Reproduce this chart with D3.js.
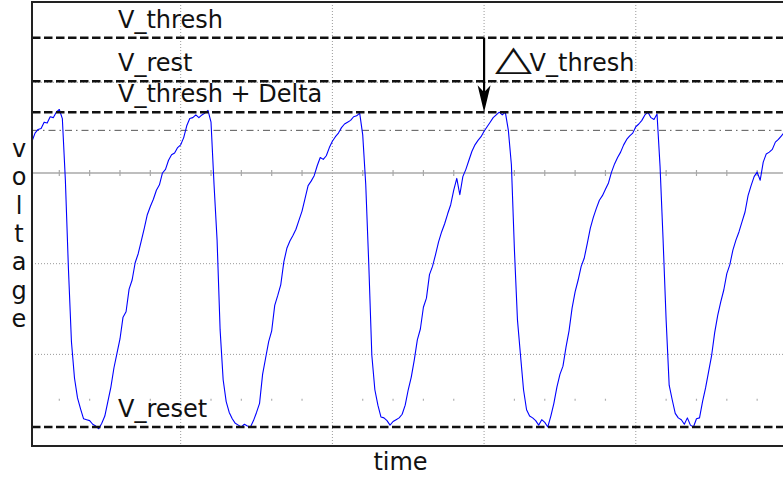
<!DOCTYPE html>
<html>
<head>
<meta charset="utf-8">
<script src="https://cdn.jsdelivr.net/npm/d3@7"></script>
<style>
  html, body { margin: 0; padding: 0; background: #fff; }
  svg { display: block; }
  text { font-family: "DejaVu Sans", sans-serif; fill: #111; }
</style>
</head>
<body>
<svg id="chart" width="783" height="477"></svg>
<script>
// Membrane trace sampled every 0.02 ms, values in mV
const sampleStartMs = 0.02;
const sampleStepMs = 0.02;
const traceMv = [
  -46.5, -45.6, -45.2, -45.1, -44.4, -44.5, -43.8, -43.9, -43.3, -43.0,
  -44.0, -50.8, -60.5, -68.6, -72.6, -74.8, -76.0, -77.1, -77.2, -77.3,
  -77.7, -77.9, -78.2, -77.6, -76.8, -75.2, -73.6, -71.5, -69.9, -68.3,
  -65.9, -65.3, -62.8, -61.8, -59.9, -58.9, -57.5, -56.1, -54.6, -53.7,
  -52.9, -51.9, -51.3, -50.0, -49.6, -48.6, -48.0, -47.8, -47.2, -46.9,
  -46.1, -44.8, -44.0, -43.9, -43.6, -43.9, -43.6, -43.4, -43.1, -44.4,
  -51.3, -57.4, -67.3, -72.8, -75.2, -76.4, -77.1, -77.6, -77.8, -78.0,
  -77.7, -77.9, -78.0, -77.3, -76.4, -75.4, -72.2, -70.4, -68.6, -67.4,
  -64.6, -63.5, -62.3, -59.8, -58.3, -57.5, -56.9, -56.2, -55.2, -54.2,
  -52.8, -51.4, -50.9, -50.3, -49.2, -48.3, -48.5, -48.1, -47.2, -46.5,
  -46.0, -45.6, -45.0, -44.6, -44.4, -44.2, -43.8, -43.7, -43.4, -45.8,
  -51.3, -60.1, -70.1, -73.9, -75.6, -76.9, -77.0, -77.3, -77.8, -77.4,
  -77.2, -77.0, -76.6, -75.6, -73.9, -72.5, -70.6, -68.4, -67.2, -64.8,
  -63.8, -61.2, -60.3, -59.0, -57.6, -56.5, -55.6, -54.5, -53.5, -51.9,
  -50.6, -52.4, -50.4, -49.6, -48.6, -47.6, -46.9, -46.4, -46.0, -45.4,
  -44.9, -44.4, -43.9, -43.6, -43.3, -43.6, -43.3, -45.3, -49.1, -58.5,
  -66.2, -70.1, -73.9, -76.1, -76.8, -77.0, -77.3, -77.8, -77.2, -77.5,
  -78.0, -76.8, -75.4, -73.6, -72.2, -71.3, -69.2, -67.4, -64.9, -63.1,
  -61.8, -60.3, -59.4, -57.8, -56.1, -54.9, -53.9, -53.0, -52.5, -51.8,
  -51.1, -49.9, -49.0, -48.3, -47.7, -46.9, -46.3, -45.9, -45.6, -44.9,
  -44.6, -44.2, -43.6, -43.3, -43.9, -44.1, -43.5, -49.3, -57.4, -66.2,
  -73.4, -75.0, -76.5, -77.0, -77.2, -77.7, -77.0, -77.8, -78.0, -77.1,
  -77.0, -75.2, -73.7, -71.9, -70.1, -67.6, -65.7, -64.2, -62.9, -61.1,
  -60.1, -58.5, -57.4, -56.5, -55.4, -54.3, -52.5, -51.4, -50.4, -49.9,
  -50.8, -48.8, -47.9, -47.7, -47.4, -46.6, -46.3, -45.9, -45.5
];

// Reference levels (mV) and their labels
const levelNames = ["V_thresh", "V_rest", "V_thresh + Delta", "V_reset"];
const levelMv = [-35.1, -39.9, -43.3, -78.0];
const cursorMv = -45.3;

// Screen graticule
const majorTimeDivs = [1, 2, 3, 4];
const majorVoltDivs = [-70, -60, -40];
const centerVolt = -50;
const minorMarkVolt = -75;
const minorStepMs = 0.2;

// Threshold-jump annotation
const jumpTimeMs = 3.0;
const jumpSymbol = "\u25B3";
const jumpLabel = "V_thresh";
const xTitle = "time";
const yTitle = "voltage";

const svg = d3.select("#chart");
const plotLeft = 32, plotTop = 2, plotBottom = 446, plotRight = 787.5;

const x = d3.scaleLinear().domain([0.02, 5.0]).range([plotLeft, plotRight]);
const y = d3.scaleLinear().domain([-80.1, -31.15]).range([plotBottom, plotTop]);

svg.append("rect").attr("width", 783).attr("height", 477).attr("fill", "#fff");

const plot = svg.append("g");

// dotted major grid
plot.selectAll(".vgrid").data(majorTimeDivs).join("line")
  .attr("x1", d => x(d)).attr("x2", d => x(d))
  .attr("y1", plotTop).attr("y2", plotBottom)
  .attr("stroke", "#9a9a9a").attr("stroke-width", 1)
  .attr("stroke-dasharray", "1,2");

plot.selectAll(".hgrid").data(majorVoltDivs).join("line")
  .attr("x1", plotLeft).attr("x2", plotRight)
  .attr("y1", d => y(d)).attr("y2", d => y(d))
  .attr("stroke", "#9a9a9a").attr("stroke-width", 1)
  .attr("stroke-dasharray", "1,2");

// solid centre line with minor ticks
plot.append("line")
  .attr("x1", plotLeft).attr("x2", plotRight)
  .attr("y1", y(centerVolt)).attr("y2", y(centerVolt))
  .attr("stroke", "#a8a8a8").attr("stroke-width", 1.6);

const minorTimes = d3.range(minorStepMs, 5.0, minorStepMs)
  .filter(t => Math.abs(t - Math.round(t)) > 1e-6);

plot.selectAll(".ctick").data(minorTimes).join("line")
  .attr("x1", d => x(d)).attr("x2", d => x(d))
  .attr("y1", y(centerVolt) - 3).attr("y2", y(centerVolt) + 3)
  .attr("stroke", "#a8a8a8").attr("stroke-width", 1.2);

plot.selectAll(".mtick").data(minorTimes).join("line")
  .attr("x1", d => x(d)).attr("x2", d => x(d))
  .attr("y1", y(minorMarkVolt) - 1).attr("y2", y(minorMarkVolt) + 1)
  .attr("stroke", "#b0b0b0").attr("stroke-width", 1.2);

// cursor line
plot.append("line")
  .attr("x1", plotLeft).attr("x2", plotRight)
  .attr("y1", y(cursorMv)).attr("y2", y(cursorMv))
  .attr("stroke", "#555").attr("stroke-width", 1)
  .attr("stroke-dasharray", "7,4,1.5,4");

// trace
const line = d3.line()
  .x((d, i) => x(sampleStartMs + i * sampleStepMs))
  .y(d => y(d));

plot.append("path").datum(traceMv)
  .attr("d", line)
  .attr("fill", "none")
  .attr("stroke", "#0000ff")
  .attr("stroke-width", 1.1)
  .attr("stroke-linejoin", "round");

// dashed reference levels
plot.selectAll(".level").data(levelMv).join("line")
  .attr("x1", plotLeft).attr("x2", plotRight)
  .attr("y1", d => y(d)).attr("y2", d => y(d))
  .attr("stroke", "#111").attr("stroke-width", 2.5)
  .attr("stroke-dasharray", "8.5,3.5");

// frame
plot.append("path")
  .attr("d", `M${plotRight},${plotTop}H${plotLeft}V${plotBottom}H${plotRight}`)
  .attr("fill", "none").attr("stroke", "#222").attr("stroke-width", 2);

// level labels
svg.selectAll(".lbl").data(levelNames).join("text")
  .attr("x", 118)
  .attr("y", (d, i) => y(levelMv[i]) - 10)
  .attr("font-size", 24)
  .text(d => d);

// arrow from V_thresh down to V_thresh + Delta
const ax = x(jumpTimeMs);
const yFrom = y(levelMv[0]);
const yTo = y(levelMv[2]);
const headLen = 27, headHalf = 6.5, notch = 7;
svg.append("line")
  .attr("x1", ax).attr("x2", ax)
  .attr("y1", yFrom).attr("y2", yTo - headLen + notch)
  .attr("stroke", "#000").attr("stroke-width", 2.2);
svg.append("path")
  .attr("d", `M${ax},${yTo} L${ax - headHalf},${yTo - headLen} L${ax},${yTo - headLen + notch} L${ax + headHalf},${yTo - headLen} Z`)
  .attr("fill", "#000");

// triangle symbol, slightly flattened, followed by the label
const jumpBase = y(levelMv[1]) - 10;
svg.append("text")
  .attr("transform", `translate(${ax + 11},${jumpBase - 1.5}) scale(1,0.72)`)
  .attr("font-size", 48)
  .text(jumpSymbol);
svg.append("text")
  .attr("x", ax + 45.5)
  .attr("y", jumpBase)
  .attr("font-size", 24)
  .text(jumpLabel);

// axis titles
svg.append("text")
  .attr("x", (plotLeft + 783) / 2 - 7)
  .attr("y", 470)
  .attr("text-anchor", "middle")
  .attr("font-size", 24)
  .text(xTitle);

svg.append("g").selectAll("text").data(yTitle.split("")).join("text")
  .attr("x", 19)
  .attr("y", (d, i) => 157 + i * 28.3)
  .attr("text-anchor", "middle")
  .attr("font-size", 24)
  .text(d => d);
</script>
</body>
</html>
